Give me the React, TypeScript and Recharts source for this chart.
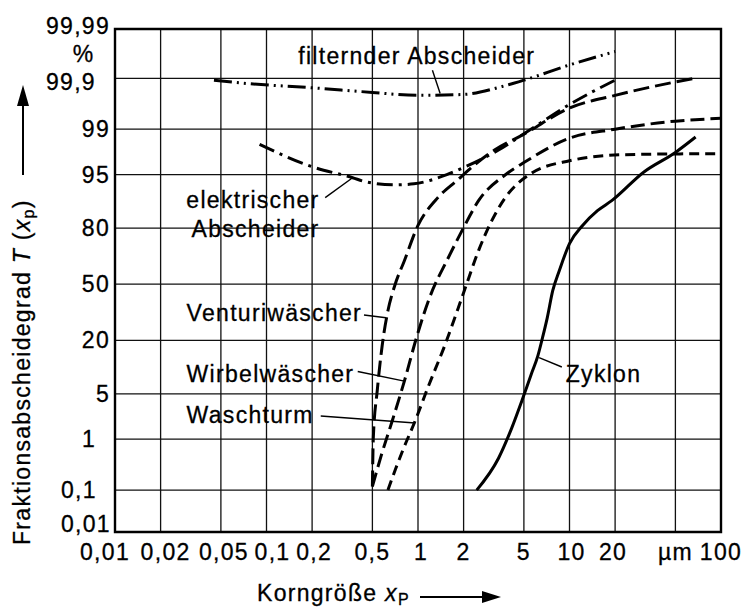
import React from 'react'
import {
  CartesianGrid,
  ComposedChart,
  Label,
  Line,
  ReferenceArea,
  ReferenceLine,
  Scatter,
  XAxis,
  YAxis,
} from 'recharts'

// Korngröße x in µm, Fraktionsabscheidegrad T in %
const filternder = [[0.045, 99.89], [0.075, 99.87], [0.2, 99.84], [0.5, 99.8], [1, 99.77], [2, 99.78], [3.6, 99.85], [5, 99.89], [10, 99.95], [20, 99.976]]
const elektrischer = [[0.09, 98.2], [0.2, 96.1], [0.37, 94.5], [0.45, 93.8], [0.7, 93.2], [0.94, 93.4], [1.55, 95], [2, 96], [3.4, 97.8], [5, 98.8], [10, 99.65], [20, 99.89]]
const venturi = [[0.5, 0.12], [0.507, 1.05], [0.538, 5.46], [0.58, 17.8], [0.633, 34.5], [0.702, 49.1], [0.813, 63.8], [1, 81.1], [1.31, 89.7], [1.84, 94.2], [2.37, 96.35], [3.2, 97.8], [5, 98.78], [10, 99.59], [20, 99.77], [50, 99.88], [67, 99.9]]
const wirbel = [[0.5, 0.12], [0.571, 0.5], [0.682, 2.15], [0.813, 7.3], [0.985, 21.9], [1.205, 43.1], [1.55, 63.8], [2, 80.2], [2.51, 89.5], [3.74, 94.9], [5, 96.6], [10, 98.58], [20, 99.0], [50, 99.28], [100, 99.36]]
const waschturm = [[0.633, 0.1], [0.712, 0.28], [0.8, 0.67], [0.957, 2.0], [1.16, 6.0], [1.5, 17.8], [2, 44.9], [2.51, 69.3], [3.07, 83.0], [3.74, 90.1], [5.6, 95.2], [10, 96.8], [22.4, 97.4], [100, 97.5]]
const zyklon = [[2.44, 0.1], [3.4, 0.45], [4.16, 1.55], [4.85, 4.0], [5.6, 8.9], [6.18, 14.1], [6.63, 21], [7.13, 30.7], [7.75, 46.1], [8.56, 58], [10, 72.9], [12.2, 81.1], [15.3, 86.5], [19, 89.5], [31, 95.4], [50, 97.6], [68, 98.64]]

const xTicks = [0.01, 0.02, 0.05, 0.1, 0.2, 0.5, 1, 2, 5, 10, 20, 50, 100]
const xTickLabels = ['0,01', '0,02', '0,05', '0,1', '0,2', '0,5', '1', '2', '5', '10', '20', 'µm', '100']
const yTicks = [0.01, 0.1, 1, 5, 20, 50, 80, 95, 99, 99.9]
const yTickLabels = ['0,01', '0,1', '1', '5', '20', '50', '80', '95', '99', '99,9', '99,99']

// curve names and where their texts sit (x in µm, T in %)
const curveTexts = [
  { text: 'filternder Abscheider', x: 0.162, t: 99.969, anchor: 'start' },
  { text: 'elektrischer', x: 0.224, t: 89.7, anchor: 'end' },
  { text: 'Abscheider', x: 0.224, t: 79.5, anchor: 'end' },
  { text: 'Venturiwäscher', x: 0.0297, t: 33.4, anchor: 'start' },
  { text: 'Wirbelwäscher', x: 0.0297, t: 9.0, anchor: 'start' },
  { text: 'Waschturm', x: 0.0297, t: 2.48, anchor: 'start' },
  { text: 'Zyklon', x: 9.45, t: 9.0, anchor: 'start' },
]
const leaders = [
  [[1.245, 99.934], [1.4, 99.79]],
  [[0.244, 90.3], [0.37, 94.5]],
  [[0.44, 32.2], [0.615, 30.7]],
  [[0.4, 9.5], [0.813, 7.3]],
  [[0.228, 2.4], [0.957, 1.86]],
  [[6.3, 13.5], [8.9, 10.7]],
]

// inverse normal distribution (Acklam), gives the probability-paper ordinate
function probit(pct: number) {
  const p = pct / 100
  const a = [-39.69683028665376, 220.9460984245205, -275.9285104469687, 138.357751867269, -30.66479806614716, 2.506628277459239]
  const b = [-54.47609879822406, 161.5858368580409, -155.6989798598866, 66.80131188771972, -13.28068155288572]
  const c = [-0.007784894002430293, -0.3223964580411365, -2.400758277161838, -2.549732539343734, 4.374664141464968, 2.938163982698783]
  const d = [0.007784695709041462, 0.3224671290700398, 2.445134137142996, 3.754408661907416]
  const tail = (q: number) =>
    (((((c[0] * q + c[1]) * q + c[2]) * q + c[3]) * q + c[4]) * q + c[5]) /
    ((((d[0] * q + d[1]) * q + d[2]) * q + d[3]) * q + 1)
  if (p < 0.02425) return tail(Math.sqrt(-2 * Math.log(p)))
  if (p > 1 - 0.02425) return -tail(Math.sqrt(-2 * Math.log(1 - p)))
  const q = p - 0.5
  const r = q * q
  return ((((((a[0] * r + a[1]) * r + a[2]) * r + a[3]) * r + a[4]) * r + a[5]) * q) /
    (((((b[0] * r + b[1]) * r + b[2]) * r + b[3]) * r + b[4]) * r + 1)
}

const toRows = (pts: number[][]) => pts.map(([x, t]) => ({ x, y: probit(t) }))

const series = [
  { key: 'filternder', pts: filternder, dash: '18 5 2 5 2 5' },
  { key: 'elektrischer', pts: elektrischer, dash: '16 6 3 6' },
  { key: 'venturi', pts: venturi, dash: '16 6' },
  { key: 'wirbel', pts: wirbel, dash: '14 6' },
  { key: 'waschturm', pts: waschturm, dash: '10 6' },
  { key: 'zyklon', pts: zyklon, dash: undefined },
]

// the frame of the probability paper sits a little above 99,99 %
const yMin = probit(0.01)
const yMax = 3.83
const yTickZ = [...yTicks.map(probit), yMax]
const textRows = curveTexts.map(c => ({ x: c.x, y: probit(c.t), text: c.text, anchor: c.anchor }))

const FONT = '"Liberation Sans", Arial, Helvetica, sans-serif'
const FS = 23
const textStyle = { letterSpacing: '1.3px' }

const xTickShift: Record<string, number> = { '0,01': -10, '0,02': 5, '0,05': 3, '0,1': 6, '0,2': 2, '1': 3, '10': 2, '20': -2 }

const XTick = (props: any) => {
  const { x, y, payload } = props
  let i = xTicks.findIndex(v => Math.abs(v - payload.value) < 1e-9)
  if (i < 0) i = payload.index ?? 0
  const label = xTickLabels[i]
  return (
    <text x={x + (xTickShift[label] ?? 0)} y={y + 12} textAnchor='middle' dominantBaseline='central'
      fontFamily={FONT} fontSize={FS} fill='#000' stroke='#000' strokeWidth={0.3} style={textStyle}>
      {label}
    </text>
  )
}

const YTick = (props: any) => {
  const { x, y, payload } = props
  let i = yTickZ.findIndex(v => Math.abs(v - payload.value) < 1e-6)
  if (i < 0) i = payload.index ?? 0
  const label = yTickLabels[i]
  let tx = x + 3
  let anchor = 'end'
  let dy = 0
  if (label === '99,99' || label === '99,9') { tx = x - 61; anchor = 'start' }
  if (label === '0,1' || label === '0,01') { tx = x - 46; anchor = 'start' }
  if (label === '1') { tx = x - 25; anchor = 'start' }
  if (label === '99,99') dy = -3
  if (label === '99,9') dy = 4
  if (label === '0,01') dy = -8
  return (
    <g>
      <text x={tx} y={y + dy} textAnchor={anchor} dominantBaseline='central'
        fontFamily={FONT} fontSize={FS} fill='#000' stroke='#000' strokeWidth={0.3} style={textStyle}>
        {label}
      </text>
      {label === '99,99' && (
        <text x={x - 24} y={y + 25} textAnchor='middle' dominantBaseline='central'
          fontFamily={FONT} fontSize={FS} fill='#000' stroke='#000' strokeWidth={0.3}>
          %
        </text>
      )}
    </g>
  )
}

const YTitle = (props: any) => {
  const vb = props.viewBox ?? { x: 10, y: 29, width: 105, height: 503 }
  const cx = vb.x + 12
  const bottom = vb.y + vb.height + 13
  return (
    <g>
      <text transform={`translate(${cx},${bottom}) rotate(-90)`} dominantBaseline='central'
        fontFamily={FONT} fontSize={FS} fill='#000' stroke='#000' strokeWidth={0.3} style={textStyle}>
        Fraktionsabscheidegrad <tspan fontStyle='italic'>T</tspan> (<tspan fontStyle='italic'>x</tspan>
        <tspan dy={6} fontSize={16}>p</tspan><tspan dy={-6}>)</tspan>
      </text>
      <line x1={cx + 1} y1={vb.y + 146} x2={cx + 1} y2={vb.y + 72} stroke='#000' strokeWidth={2} />
      <path d={`M${cx - 5} ${vb.y + 77} L${cx + 1} ${vb.y + 56} L${cx + 7} ${vb.y + 77} Z`} fill='#000' />
    </g>
  )
}

const XTitle = (props: any) => {
  const vb = props.viewBox ?? { x: 115, y: 532, width: 606, height: 30 }
  const ty = vb.y + 61
  return (
    <g>
      <text x={257} y={ty} dominantBaseline='central' fontFamily={FONT} fontSize={FS} fill='#000'
        stroke='#000' strokeWidth={0.3} style={textStyle}>
        Korngröße <tspan fontStyle='italic'>x</tspan><tspan dy={6} fontSize={16}>P</tspan>
      </text>
      <line x1={420} y1={ty + 4} x2={484} y2={ty + 4} stroke='#000' strokeWidth={2} />
      <path d={`M482 ${ty - 2} L501 ${ty + 4} L482 ${ty + 10} Z`} fill='#000' />
    </g>
  )
}

const CurveText = (props: any) => {
  const { cx, cy, payload } = props
  return (
    <text x={cx} y={cy} textAnchor={payload.anchor} dominantBaseline='central'
      fontFamily={FONT} fontSize={FS} fill='#000' stroke='#000' strokeWidth={0.3} style={textStyle}>
      {payload.text}
    </text>
  )
}

export default function App() {
  return (
    <div style={{ position: 'absolute', left: 0, top: 0, width: 743, height: 608, background: '#fff' }}>
      <ComposedChart width={743} height={608} margin={{ top: 29, right: 22, bottom: 46, left: 10 }}>
        <CartesianGrid stroke='#111' strokeWidth={1.3} />
        <XAxis
          type='number'
          dataKey='x'
          scale='log'
          domain={[0.01, 100]}
          ticks={xTicks}
          interval={0}
          allowDataOverflow
          tickLine={false}
          axisLine={false}
          height={30}
          tick={<XTick />}
        >
          <Label content={<XTitle />} />
        </XAxis>
        <YAxis
          type='number'
          dataKey='y'
          domain={[yMin, yMax]}
          ticks={yTickZ}
          interval={0}
          allowDataOverflow
          tickLine={false}
          axisLine={false}
          width={105}
          tick={<YTick />}
        >
          <Label content={<YTitle />} />
        </YAxis>
        <ReferenceArea x1={0.01} x2={100} y1={yMin} y2={yMax} fill='none' stroke='#000' strokeWidth={2.4} />
        {series.map(s => (
          <Line
            key={s.key}
            data={toRows(s.pts)}
            dataKey='y'
            type='monotone'
            stroke='#000'
            strokeWidth={3}
            strokeDasharray={s.dash}
            dot={false}
            activeDot={false}
            isAnimationActive={false}
          />
        ))}
        {leaders.map((l, i) => (
          <ReferenceLine
            key={i}
            segment={[{ x: l[0][0], y: probit(l[0][1]) }, { x: l[1][0], y: probit(l[1][1]) }]}
            stroke='#000'
            strokeWidth={1.4}
          />
        ))}
        <Scatter data={textRows} dataKey='y' shape={<CurveText />} isAnimationActive={false} />
      </ComposedChart>
    </div>
  )
}
